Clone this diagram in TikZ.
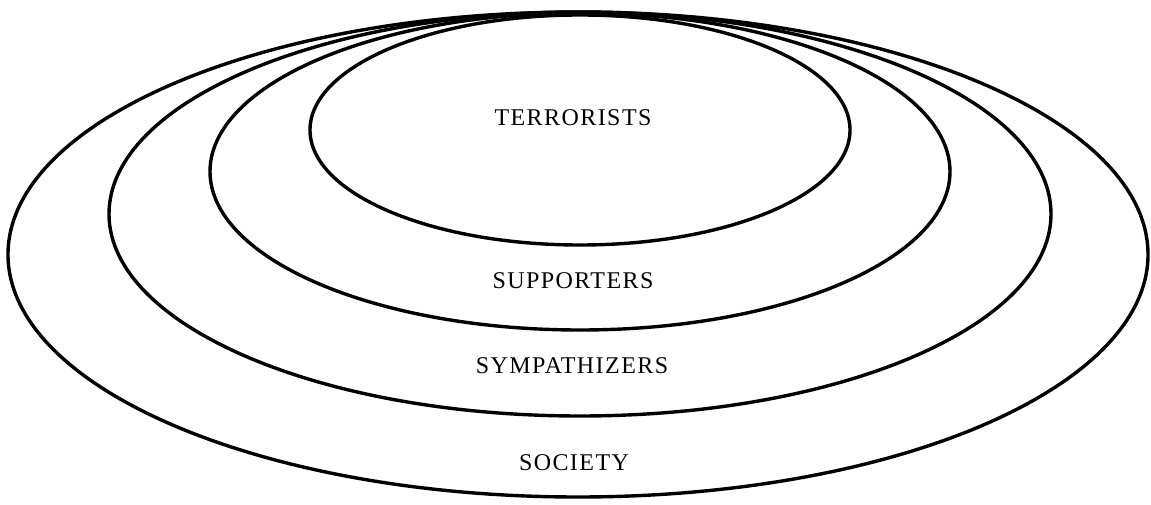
\documentclass[tikz,border=0pt]{standalone}
\usepackage{fontspec}
\setmainfont{Liberation Serif}
\newfontfamily\lblfont[LetterSpace=6]{Liberation Serif}
\usetikzlibrary{shapes.geometric}
\begin{document}
\begin{tikzpicture}[x=1pt,y=-1pt,
  ring/.style={draw=black, line width=3.4pt, ellipse, inner sep=0pt, outer sep=0pt},
  lbl/.style={font=\lblfont\fontsize{24}{27}\selectfont, inner sep=0pt}]
\useasboundingbox[fill=white] (0,0) rectangle (1151,505);
\node[ring, minimum width=1140pt, minimum height=485pt] (society) at (578,254.5) {};
\node[ring, minimum width=942pt, minimum height=404pt] (symp) at (580,214) {};
\node[ring, minimum width=740pt, minimum height=317pt] (supp) at (580,171.5) {};
\node[ring, minimum width=540pt, minimum height=230pt] (terr) at (580,130) {};
\node[lbl] (tlbl) at (573,118) {TERRORISTS};
\node[lbl] (suplbl) at (573,281) {SUPPORTERS};
\node[lbl] (symlbl) at (572,366) {SYMPATHIZERS};
\node[lbl] (soclbl) at (574,463) {SOCIETY};
\end{tikzpicture}
\end{document}
